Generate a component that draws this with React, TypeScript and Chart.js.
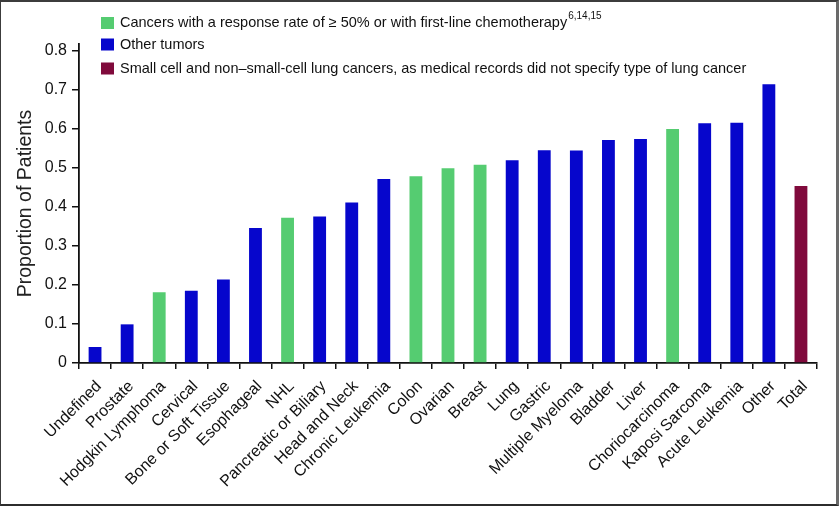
import React, { useEffect, useRef } from "react";
import { Chart, registerables } from "chart.js";

Chart.register(...registerables);

const categories = [
  "Undefined", "Prostate", "Hodgkin Lymphoma", "Cervical", "Bone or Soft Tissue",
  "Esophageal", "NHL", "Pancreatic or Biliary", "Head and Neck", "Chronic Leukemia",
  "Colon", "Ovarian", "Breast", "Lung", "Gastric", "Multiple Myeloma", "Bladder",
  "Liver", "Choriocarcinoma", "Kaposi Sarcoma", "Acute Leukemia", "Other", "Total",
];

const proportions = [
  0.041, 0.099, 0.181, 0.185, 0.214,
  0.346, 0.372, 0.375, 0.411, 0.471,
  0.478, 0.499, 0.508, 0.519, 0.545, 0.544, 0.571,
  0.574, 0.599, 0.614, 0.615, 0.714, 0.453,
];

// 0 = responsive cancers, 1 = other tumors, 2 = lung / total
const groups = [
  1, 1, 0, 1, 1,
  1, 0, 1, 1, 1,
  0, 0, 0, 1, 1, 1, 1,
  1, 0, 1, 1, 1, 2,
];

const groupColors = ["#55CC71", "#0606CC", "#800A3C"];

const legendLabels = [
  "Cancers with a response rate of \u2265 50% or with first-line chemotherapy",
  "Other tumors",
  "Small cell and non\u2013small-cell lung cancers, as medical records did not specify type of lung cancer",
];
const legendSuperscripts = ["6,14,15", "", ""];

const yTicks = [0, 0.1, 0.2, 0.3, 0.4, 0.5, 0.6, 0.7, 0.8];

const FONT = "'Liberation Sans', Arial, Helvetica, sans-serif";

const legendPlugin = {
  id: "customLegend",
  afterDraw(chart: any) {
    const ctx = chart.ctx;
    ctx.save();
    const rowsY = [23, 44.5, 68.5];
    legendLabels.forEach((label, i) => {
      const y = rowsY[i];
      ctx.fillStyle = groupColors[i];
      ctx.fillRect(101, y - 6, 13, 12);
      ctx.fillStyle = "#111";
      ctx.font = `14.5px ${FONT}`;
      ctx.textBaseline = "middle";
      ctx.textAlign = "left";
      ctx.fillText(label, 120, y);
      if (legendSuperscripts[i]) {
        const w = ctx.measureText(label).width;
        ctx.font = `10px ${FONT}`;
        ctx.fillText(legendSuperscripts[i], 120 + w + 1, y - 7);
      }
    });
    ctx.restore();
  },
};

export default function App() {
  const canvasRef = useRef<HTMLCanvasElement | null>(null);

  useEffect(() => {
    if (!canvasRef.current) return;
    const chart = new Chart(canvasRef.current, {
      type: "bar",
      data: {
        labels: categories,
        datasets: [
          {
            data: proportions,
            backgroundColor: groups.map((g) => groupColors[g]),
            borderWidth: 0,
            barPercentage: 0.4,
            categoryPercentage: 1,
          },
        ],
      },
      options: {
        responsive: false,
        animation: false,
        devicePixelRatio: 1,
        layout: { padding: { top: 44, right: 22, left: 0, bottom: 0 } },
        plugins: {
          legend: { display: false },
          tooltip: { enabled: false },
        },
        scales: {
          x: {
            grid: {
              display: true,
              drawOnChartArea: false,
              drawTicks: true,
              tickLength: 6,
              color: "#111",
              lineWidth: 1.5,
              offset: true,
            },
            border: { display: true, color: "#111", width: 1.8 },
            ticks: {
              autoSkip: false,
              minRotation: 45,
              maxRotation: 45,
              color: "#111",
              font: { family: FONT, size: 16 },
              padding: 8,
              labelOffset: 4,
            },
            afterFit(scale: any) {
              scale.height = 143;
            },
          },
          y: {
            min: 0,
            max: 0.817,
            grid: {
              display: true,
              drawOnChartArea: false,
              drawTicks: true,
              tickLength: 7,
              color: "#111",
              lineWidth: 1.5,
            },
            border: { display: true, color: "#111", width: 1.8 },
            ticks: {
              color: "#111",
              font: { family: FONT, size: 16 },
              padding: 5,
              callback: (v: any) => (v === 0 ? "0" : Number(v).toFixed(1)),
            },
            afterBuildTicks(scale: any) {
              scale.ticks = yTicks.map((v) => ({ value: v }));
            },
            title: {
              display: true,
              text: "Proportion of Patients",
              color: "#222",
              font: { family: FONT, size: 19.5, lineHeight: 1.2 },
              padding: { top: 14, bottom: 0 },
            },
            afterFit(scale: any) {
              scale.width = 79;
            },
          },
        },
      },
      plugins: [legendPlugin],
    });
    return () => chart.destroy();
  }, []);

  return (
    <div style={{ position: "fixed", left: 0, top: 0, width: 839, height: 506, background: "#fff" }}>
      <canvas ref={canvasRef} width={839} height={506} style={{ width: 839, height: 506, display: "block" }} />
      <div
        style={{
          position: "absolute",
          left: 0,
          top: 0,
          width: 839,
          height: 506,
          boxSizing: "border-box",
          borderTop: "2px solid #3c3c3c",
          borderLeft: "1px solid #3c3c3c",
          borderRight: "3px solid #6a6a6a",
          borderBottom: "2px solid #2c2c2c",
          pointerEvents: "none",
        }}
      />
    </div>
  );
}
